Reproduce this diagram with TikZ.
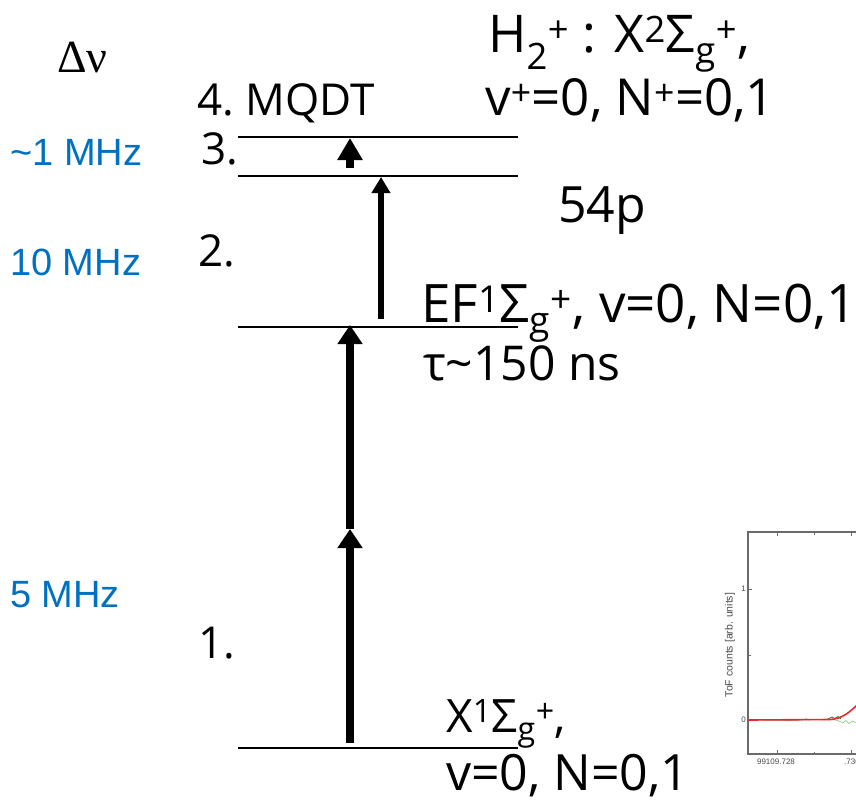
\documentclass[tikz,border=0pt]{standalone}
\usepackage{fontspec}
\setmainfont{Open Sans}
\newfontfamily\labfont{Liberation Sans}
\newfontfamily\deltafont{Liberation Serif}
\usetikzlibrary{arrows.meta}
\definecolor{ink}{HTML}{000000}
\definecolor{freqblue}{HTML}{0070C0}
\definecolor{framegrey}{HTML}{6A6A6A}
\definecolor{fitred}{HTML}{E8282C}
\definecolor{datagreen}{HTML}{2F7F2F}
\definecolor{lightgreen}{HTML}{7CC67C}
\newcommand{\fsz}[1]{\fontsize{#1}{#1}\selectfont}
\newcommand{\sgplus}{Σ\textsubscript{g}\textsuperscript{+}}

\begin{document}
\begin{tikzpicture}[x=1pt,y=-1pt,
  level/.style={draw=ink,line width=2pt},
  lbl/.style={anchor=base west,inner sep=0pt,text=ink},
  freq/.style={anchor=base west,inner sep=0pt,text=freqblue,font=\labfont\fsz{38}},
  stepno/.style={lbl,font=\fsz{44}},
  pump/.style={ink,line width=8pt,-{Triangle[length=19pt,width=24pt]}},
  probe/.style={ink,line width=6pt,-{Triangle[length=16pt,width=18pt]}},
  tick/.style={framegrey,line width=0.8pt},
  ticklbl/.style={inner sep=0pt,text=framegrey!70!black,font=\labfont\fsz{8}}]
  \clip (0,0) rectangle (856,803);

  % energy levels
  \foreach \name/\y in {ion/137,ryd/176,ef/327,gnd/748}{%
    \draw[level] (238,\y) coordinate (\name-l) -- (518,\y) coordinate (\name-r);}

  % excitation steps
  \coordinate (a1-start) at (350,743);
  \coordinate (a1-mid)   at (350,529);
  \coordinate (a1-end)   at (350,325);
  \coordinate (a2-start) at (381,319);
  \coordinate (a2-end)   at (381,177);
  \coordinate (a3-start) at (350,168);
  \coordinate (a3-end)   at (350,138);
  \draw[pump] (a1-start) -- (a1-mid);
  \draw[pump] (a1-mid) -- (a1-end);
  \draw[probe] (a2-start) -- (a2-end);
  \draw[ink,line width=8pt,-{Triangle[length=22pt,width=24pt]}] (a3-start) -- (a3-end);

  % step numbers
  \node[stepno] (s4) at (197,115) {4.\ MQDT};
  \node[stepno] (s3) at (201,164) {3.};
  \node[stepno] (s2) at (198,266) {2.};
  \node[stepno] (s1) at (198,658) {1.};

  % linewidths
  \node[lbl,font=\deltafont\fsz{46}] (dnu) at (57,72) {Δν};
  \node[freq] (f3) at (10,165) {\textasciitilde1 MHz};
  \node[freq] (f2) at (10,275) {10 MHz};
  \node[freq] (f1) at (10,607) {5 MHz};

  % state labels
  \node[lbl,font=\fsz{52}] (ionA) at (488,52) {H\textsubscript{2}\textsuperscript{+} : X\textsuperscript{2}\sgplus,};
  \node[lbl,font=\fsz{51}] (ionB) at (485,115) {v\textsuperscript{+}=0, N\textsuperscript{+}=0,1};
  \node[lbl,font=\fsz{50}] (ryd) at (558,222) {54p};
  \node[lbl,font=\fsz{53}] (efA) at (421,322) {EF\textsuperscript{1}\sgplus, v=0, N=0,1};
  \node[lbl,font=\fsz{48}] (efB) at (423,380) {τ\textasciitilde150 ns};
  \node[lbl,font=\fsz{46}] (gndA) at (446,732) {X\textsuperscript{1}\sgplus,};
  \node[lbl,font=\fsz{50}] (gndB) at (446,790) {v=0, N=0,1};

  % inset spectrum
  \draw[framegrey,line width=1.2pt] (748,532) rectangle (900,754);
  \foreach \x/\len in {777/4,814/2.5,851/4}{%
    \draw[tick] (\x,532) -- ++(0,\len);
    \draw[tick] (\x,754) -- ++(0,-\len);}
  \foreach \y/\len in {589/4,655/2.5,720/4}{%
    \draw[tick] (748,\y) -- ++(\len,0);}
  \node[ticklbl,anchor=east] (t1) at (746,589) {1};
  \node[ticklbl,anchor=east] (t0) at (746,720) {0};
  \node[ticklbl,anchor=north] (tx1) at (776,759) {99109.728};
  \node[ticklbl,anchor=north] (tx2) at (852,759) {.730};
  \node[ticklbl,rotate=90,font=\labfont\fsz{10.5}] (ylab) at (730,645) {ToF counts [arb. units]};
  \draw[lightgreen,line width=0.6pt] (748,720) -- (790,720.5) -- (812,719.5) -- (836,720)
    -- (840,721.5) -- (843,723) -- (846,720.5) -- (849,723.5) -- (852,721) -- (856,722.5);
  \draw[datagreen,line width=0.8pt] (828,719) -- (832,717) -- (835,718.5) -- (838,716.5) -- (841,719);
  \draw[datagreen,line width=0.8pt] (801,720) -- (806,719) -- (810,720);
  \draw[fitred,line width=1.6pt] (748,720) -- (830,719.5) .. controls (842,719) and (850,712) .. (858,704);
\end{tikzpicture}
\end{document}
